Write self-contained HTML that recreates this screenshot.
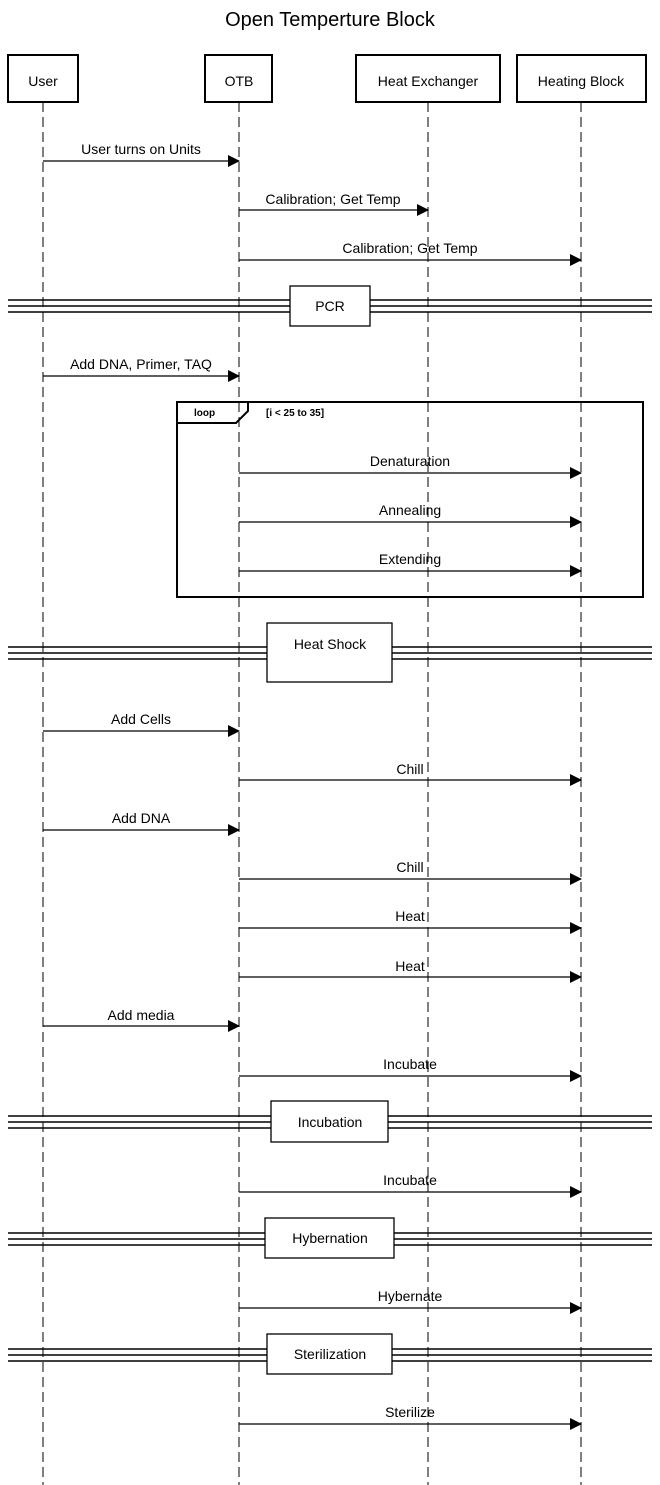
<!DOCTYPE html>
<html><head><meta charset="utf-8"><style>
html,body{margin:0;padding:0;background:#fff}
svg{display:block}
text{font-family:"Liberation Sans",Arial,sans-serif;fill:#000}
</style></head><body>
<svg width="660" height="1485" viewBox="0 0 660 1485" xmlns="http://www.w3.org/2000/svg">
<defs><marker id="a" markerWidth="12" markerHeight="12" refX="11" refY="6" orient="auto" markerUnits="userSpaceOnUse"><path d="M0,0 L12,6 L0,12 Z" fill="#000"/></marker></defs>
<text x="330" y="26" font-size="20" text-anchor="middle">Open Temperture Block</text>
<g stroke="#000" stroke-width="1" stroke-dasharray="10,5" fill="none">
<line x1="43" y1="102" x2="43" y2="1485"/>
<line x1="239" y1="102" x2="239" y2="1485"/>
<line x1="428" y1="102" x2="428" y2="1485"/>
<line x1="581" y1="102" x2="581" y2="1485"/>
</g>
<g stroke="#000" stroke-width="2" fill="#fff">
<rect x="8" y="55" width="70" height="47"/>
<rect x="205" y="55" width="67" height="47"/>
<rect x="356" y="55" width="144" height="47"/>
<rect x="517" y="55" width="129" height="47"/>
</g>
<g font-size="14" text-anchor="middle">
<text x="43" y="86">User</text>
<text x="239" y="86">OTB</text>
<text x="428" y="86">Heat Exchanger</text>
<text x="581" y="86">Heating Block</text>
</g>
<g stroke="#000" stroke-width="1" fill="none">
<rect x="177" y="402" width="466" height="195" stroke-width="2"/>
<path d="M177,423 H236 L248,411 V402" stroke-width="2"/>
</g>
<text x="194" y="416" font-size="10" font-weight="bold">loop</text>
<text x="266" y="416" font-size="10" font-weight="bold">[i &lt; 25 to 35]</text>
<g stroke="#000" stroke-width="1.3" marker-end="url(#a)">
<line x1="43" y1="161" x2="239" y2="161"/>
<line x1="239" y1="210" x2="428" y2="210"/>
<line x1="239" y1="260" x2="581" y2="260"/>
<line x1="43" y1="376" x2="239" y2="376"/>
<line x1="239" y1="473" x2="581" y2="473"/>
<line x1="239" y1="522" x2="581" y2="522"/>
<line x1="239" y1="571" x2="581" y2="571"/>
<line x1="43" y1="731" x2="239" y2="731"/>
<line x1="239" y1="780" x2="581" y2="780"/>
<line x1="43" y1="830" x2="239" y2="830"/>
<line x1="239" y1="879" x2="581" y2="879"/>
<line x1="239" y1="928" x2="581" y2="928"/>
<line x1="239" y1="977" x2="581" y2="977"/>
<line x1="43" y1="1026" x2="239" y2="1026"/>
<line x1="239" y1="1076" x2="581" y2="1076"/>
<line x1="239" y1="1192" x2="581" y2="1192"/>
<line x1="239" y1="1308" x2="581" y2="1308"/>
<line x1="239" y1="1424" x2="581" y2="1424"/>
</g>
<g font-size="14" text-anchor="middle">
<text x="141" y="154">User turns on Units</text>
<text x="333" y="204">Calibration; Get Temp</text>
<text x="410" y="253">Calibration; Get Temp</text>
<text x="141" y="369">Add DNA, Primer, TAQ</text>
<text x="410" y="466">Denaturation</text>
<text x="410" y="515">Annealing</text>
<text x="410" y="564">Extending</text>
<text x="141" y="724">Add Cells</text>
<text x="410" y="774">Chill</text>
<text x="141" y="823">Add DNA</text>
<text x="410" y="872">Chill</text>
<text x="410" y="921">Heat</text>
<text x="410" y="971">Heat</text>
<text x="141" y="1020">Add media</text>
<text x="410" y="1069">Incubate</text>
<text x="410" y="1185">Incubate</text>
<text x="410" y="1301">Hybernate</text>
<text x="410" y="1417">Sterilize</text>
</g>
<g stroke="#000" stroke-width="1.5">
<line x1="8" y1="300" x2="652" y2="300"/><line x1="8" y1="306" x2="652" y2="306"/><line x1="8" y1="312" x2="652" y2="312"/>
<line x1="8" y1="647" x2="652" y2="647"/><line x1="8" y1="653" x2="652" y2="653"/><line x1="8" y1="659" x2="652" y2="659"/>
<line x1="8" y1="1116" x2="652" y2="1116"/><line x1="8" y1="1122" x2="652" y2="1122"/><line x1="8" y1="1128" x2="652" y2="1128"/>
<line x1="8" y1="1233" x2="652" y2="1233"/><line x1="8" y1="1239" x2="652" y2="1239"/><line x1="8" y1="1245" x2="652" y2="1245"/>
<line x1="8" y1="1349" x2="652" y2="1349"/><line x1="8" y1="1355" x2="652" y2="1355"/><line x1="8" y1="1361" x2="652" y2="1361"/>
</g>
<g stroke="#000" stroke-width="1.3" fill="#fff">
<rect x="290" y="286" width="80" height="40"/>
<rect x="267" y="623" width="125" height="59"/>
<rect x="271" y="1101" width="117" height="41"/>
<rect x="265" y="1218" width="129" height="40"/>
<rect x="267" y="1334" width="125" height="40"/>
</g>
<g font-size="14" text-anchor="middle">
<text x="330" y="311">PCR</text>
<text x="330" y="649">Heat Shock</text>
<text x="330" y="1127">Incubation</text>
<text x="330" y="1243">Hybernation</text>
<text x="330" y="1359">Sterilization</text>
</g>
</svg>
</body></html>
